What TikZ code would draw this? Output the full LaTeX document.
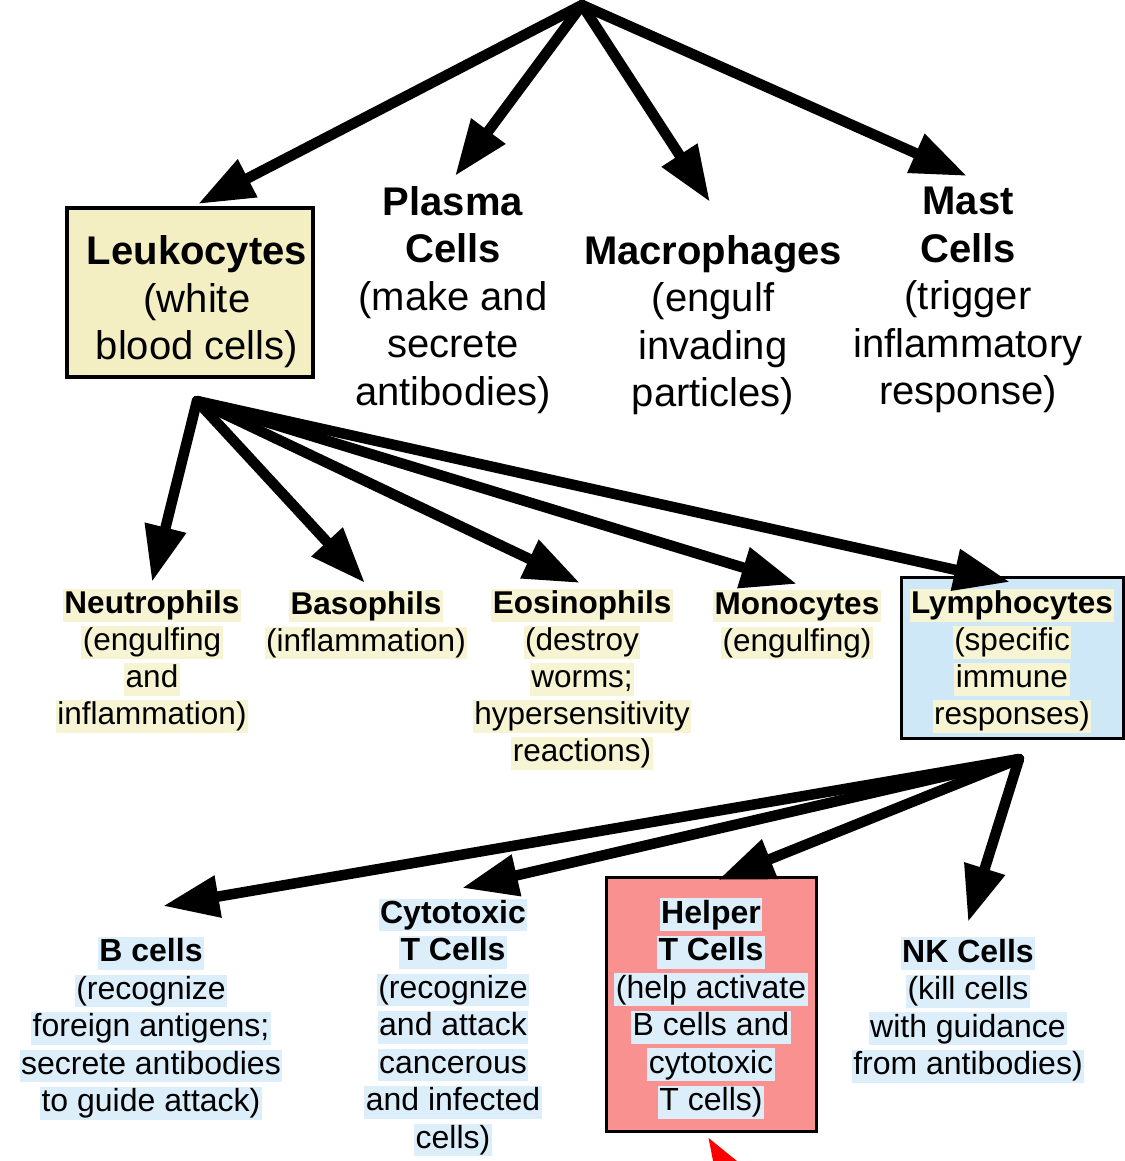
\documentclass[tikz,border=0pt]{standalone}
\usepackage{fontspec}
\setmainfont{Liberation Sans}
\usetikzlibrary{arrows.meta}
\definecolor{leukofill}{HTML}{F4EFC2}
\definecolor{lymfill}{HTML}{CFE8F7}
\definecolor{helpfill}{HTML}{F99190}
\definecolor{hlyel}{HTML}{F7F4D3}
\definecolor{hlblu}{HTML}{DCEEFA}
\newcommand\hy[1]{{\setlength\fboxsep{1.5pt}\colorbox{hlyel}{\vphantom{(Ag}#1}}}
\newcommand\hb[1]{{\setlength\fboxsep{1.5pt}\colorbox{hlblu}{\vphantom{(Ag}#1}}}
\begin{document}
\begin{tikzpicture}[x=1pt,y=-1pt,
  arr/.style={line width=10.5pt, line cap=round, -{Triangle[length=56pt,width=40pt]}},
  toptext/.style={font=\fontsize{40}{47.5}\selectfont, align=center, inner sep=0pt},
  midtext/.style={font=\fontsize{31.5}{37}\selectfont, align=center, inner sep=0pt},
  lowtext/.style={font=\fontsize{32}{37.5}\selectfont, align=center, inner sep=0pt},
  cellbox/.style={draw=black, rectangle, inner sep=0pt}]
\useasboundingbox (0,0) rectangle (1124,1161);
\fill[white] (0,0) rectangle (1124,1161);

% boxes
\node[cellbox, line width=4pt, fill=leukofill, minimum width=246pt, minimum height=169pt] (leukobox) at (190,292.5) {};
\node[cellbox, line width=3pt, fill=lymfill, minimum width=222pt, minimum height=161pt] (lymbox) at (1012,657.5) {};
\node[cellbox, line width=3pt, fill=helpfill, minimum width=210pt, minimum height=254pt] (helpbox) at (711,1004) {};

% top level
\node[toptext] (leuko) at (197,302) {\textbf{Leukocytes}\\(white\\blood cells)};
\node[toptext] (plasma) at (453,300) {\textbf{Plasma}\\\textbf{Cells}\\(make and\\secrete\\antibodies)};
\node[toptext] (macro) at (713,325) {\textbf{Macrophages}\\(engulf\\invading\\particles)};
\node[toptext] (mast) at (968,300) {\textbf{Mast}\\\textbf{Cells}\\(trigger\\inflammatory\\response)};

% second level
\node[midtext] (neut) at (152,661) {\hy{\textbf{Neutrophils}}\\\hy{(engulfing}\\\hy{and}\\\hy{inflammation)}};
\node[midtext] (baso) at (366,624.5) {\hy{\textbf{Basophils}}\\\hy{(inflammation)}};
\node[midtext] (eosi) at (582,679.5) {\hy{\textbf{Eosinophils}}\\\hy{(destroy}\\\hy{worms;}\\\hy{hypersensitivity}\\\hy{reactions)}};
\node[midtext] (mono) at (797,624.5) {\hy{\textbf{Monocytes}}\\\hy{(engulfing)}};
\node[midtext] (lymph) at (1012,661) {\hy{\textbf{Lymphocytes}}\\\hy{(specific}\\\hy{immune}\\\hy{responses)}};

% third level
\node[lowtext] (bcell) at (151,1028.5) {\hb{\textbf{B cells}}\\\hb{(recognize}\\\hb{foreign antigens;}\\\hb{secrete antibodies}\\\hb{to guide attack)}};
\node[lowtext] (cyto) at (453,1027.5) {\hb{\textbf{Cytotoxic}}\\\hb{\textbf{T Cells}}\\\hb{(recognize}\\\hb{and attack}\\\hb{cancerous}\\\hb{and infected}\\\hb{cells)}};
\node[lowtext] (helper) at (711,1008.5) {\hb{\textbf{Helper}}\\\hb{\textbf{T Cells}}\\\hb{(help activate}\\\hb{B cells and}\\\hb{cytotoxic}\\\hb{T cells)}};
\node[lowtext] (nk) at (968,1010) {\hb{\textbf{NK Cells}}\\\hb{(kill cells}\\\hb{with guidance}\\\hb{from antibodies)}};

% connector coordinates
\coordinate (topsrc) at (582,5);
\coordinate (leusrc) at (197,401);
\coordinate (lymsrc) at (1019,759);
\coordinate (tLeuko) at (198,204);
\coordinate (tPlasma) at (455,176);
\coordinate (tMacro) at (710,202);
\coordinate (tMast) at (967,176);
\coordinate (tNeut) at (152,582);
\coordinate (tBaso) at (365,583);
\coordinate (tEosi) at (580,583);
\coordinate (tMono) at (797,584);
\coordinate (tLymph) at (1010,582);
\coordinate (tB) at (163,906);
\coordinate (tCyto) at (462,888);
\coordinate (tHelp) at (718,880);
\coordinate (tNK) at (968,922);

% arrows
\draw[arr] (topsrc) -- (tLeuko);
\draw[arr] (topsrc) -- (tPlasma);
\draw[arr] (topsrc) -- (tMacro);
\draw[arr] (topsrc) -- (tMast);

\draw[arr] (leusrc) -- (tNeut);
\draw[arr] (leusrc) -- (tBaso);
\draw[arr] (leusrc) -- (tEosi);
\draw[arr] (leusrc) -- (tMono);
\draw[arr] (leusrc) -- (tLymph);

\draw[arr] (lymsrc) -- (tB);
\draw[arr] (lymsrc) -- (tCyto);
\draw[arr] (lymsrc) -- (tHelp);
\draw[arr] (lymsrc) -- (tNK);

% red arrow cut at bottom edge
\begin{scope}
\clip (0,0) rectangle (1124,1161);
\coordinate (redtail) at (756,1217);
\coordinate (redtip) at (708,1137);
\draw[red, line width=7pt, -{Triangle[length=40pt,width=26pt]}] (redtail) -- (redtip);
\end{scope}
\end{tikzpicture}
\end{document}
